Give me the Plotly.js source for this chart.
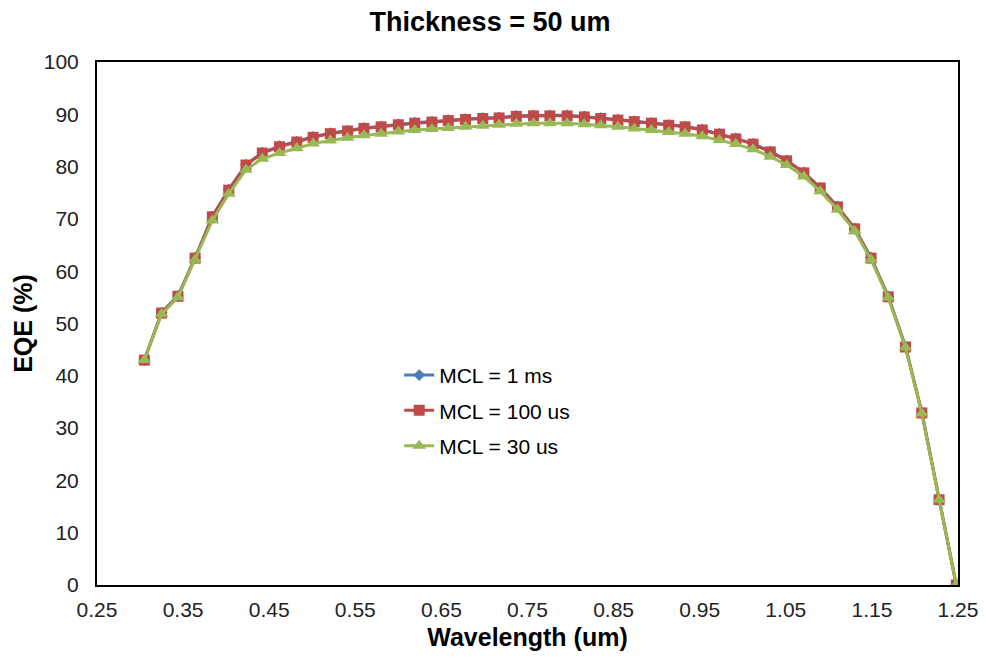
<!DOCTYPE html>
<html>
<head>
<meta charset="utf-8">
<script src="https://cdn.plot.ly/plotly-3.0.1.min.js"></script>
<style>html,body{margin:0;padding:0;background:#fff;}#chart{width:986px;height:664px;}</style>
</head>
<body>
<div id="chart"></div>
<script>
// Wavelength (um)
const wavelength = [0.305, 0.325, 0.344, 0.364, 0.384, 0.403, 0.423, 0.442, 0.462, 0.482,
  0.501, 0.521, 0.541, 0.560, 0.580, 0.600, 0.619, 0.639, 0.658, 0.678,
  0.698, 0.717, 0.737, 0.757, 0.776, 0.796, 0.816, 0.835, 0.855, 0.874,
  0.894, 0.914, 0.933, 0.953, 0.973, 0.992, 1.012, 1.032, 1.051, 1.071,
  1.090, 1.110, 1.130, 1.149, 1.169, 1.189, 1.208, 1.228, 1.248];

// EQE (%) for MCL = 1 ms
const eqe1ms = [43.0, 52.1, 55.3, 62.6, 70.5, 75.6, 80.4, 82.7, 83.9, 84.8,
  85.7, 86.4, 86.9, 87.4, 87.7, 88.1, 88.4, 88.6, 88.9, 89.1,
  89.3, 89.4, 89.7, 89.8, 89.8, 89.8, 89.6, 89.3, 89.0, 88.7,
  88.4, 88.0, 87.7, 87.1, 86.3, 85.4, 84.4, 82.9, 81.2, 78.9,
  76.0, 72.4, 68.2, 62.6, 55.2, 45.6, 33.0, 16.3, 0.0];

// EQE (%) for MCL = 100 us
const eqe100us = [43.0, 52.0, 55.2, 62.5, 70.4, 75.5, 80.3, 82.6, 83.8, 84.7,
  85.6, 86.3, 86.8, 87.3, 87.6, 88.0, 88.3, 88.5, 88.8, 89.0,
  89.2, 89.3, 89.6, 89.7, 89.7, 89.7, 89.5, 89.2, 88.9, 88.6,
  88.3, 87.9, 87.6, 87.0, 86.2, 85.3, 84.3, 82.8, 81.1, 78.8,
  75.9, 72.3, 68.1, 62.5, 55.1, 45.5, 32.9, 16.3, 0.0];

// EQE (%) for MCL = 30 us
const eqe30us = [43.0, 51.8, 55.0, 62.2, 69.7, 74.8, 79.4, 81.5, 82.6, 83.5,
  84.4, 85.0, 85.5, 86.0, 86.3, 86.7, 87.0, 87.2, 87.4, 87.6,
  87.8, 88.0, 88.2, 88.3, 88.3, 88.3, 88.1, 87.9, 87.6, 87.3,
  87.0, 86.6, 86.3, 85.8, 85.1, 84.3, 83.3, 81.9, 80.3, 78.1,
  75.3, 71.8, 67.7, 62.2, 54.9, 45.4, 32.8, 16.3, 0.0];

const seriesNames = ["MCL = 1 ms", "MCL = 100 us", "MCL = 30 us"];
const xTickVals = [0.25, 0.35, 0.45, 0.55, 0.65, 0.75, 0.85, 0.95, 1.05, 1.15, 1.25];
const xTickText = ["0.25", "0.35", "0.45", "0.55", "0.65", "0.75", "0.85", "0.95", "1.05", "1.15", "1.25"];
const yTickVals = [0, 10, 20, 30, 40, 50, 60, 70, 80, 90, 100];

const FONT = "Liberation Sans, Arial, sans-serif";

const traces = [
  {x: wavelength, y: eqe1ms, name: seriesNames[0], mode: "lines+markers", legendgroup: "a",
   line: {color: "#4A7EBB", width: 3}, marker: {symbol: "diamond", size: 9, color: "#4A7EBB"}},
  {x: wavelength, y: eqe100us, name: seriesNames[1], mode: "lines+markers", legendgroup: "b",
   line: {color: "#BE4B48", width: 3}, marker: {symbol: "square", size: 11, color: "#BE4B48"}},
  {x: wavelength, y: eqe30us, name: seriesNames[2], mode: "lines+markers", legendgroup: "c",
   line: {color: "#98B954", width: 3}, marker: {symbol: "triangle-up", size: 12, color: "#98B954"}}
];

const layout = {
  width: 986, height: 664,
  margin: {l: 97, r: 28, t: 62, b: 79},
  paper_bgcolor: "#fff", plot_bgcolor: "#fff",
  font: {family: FONT, color: "#000"},
  title: {text: "<b>Thickness = 50 um</b>", x: 0.497, xref: "container", xanchor: "center",
          y: 0.967, yanchor: "middle",
          font: {family: FONT, size: 27, color: "#000"}},
  xaxis: {range: [0.25, 1.25], tickvals: xTickVals, ticktext: xTickText,
          showgrid: false, zeroline: false, showline: true, mirror: true,
          linecolor: "#000", linewidth: 2, ticks: "", ticklabelstandoff: 5,
          tickfont: {family: FONT, size: 21, color: "#222"},
          title: {text: "<b>Wavelength (um)</b>", standoff: 8, font: {family: FONT, size: 25, color: "#000"}}},
  yaxis: {range: [0, 100], tickvals: yTickVals,
          showgrid: false, zeroline: false, showline: true, mirror: true,
          linecolor: "#000", linewidth: 2, ticks: "", ticklabelstandoff: 12,
          tickfont: {family: FONT, size: 21, color: "#222"},
          title: {text: "<b>EQE (%)</b>", standoff: 4, font: {family: FONT, size: 25, color: "#000"}}},
  showlegend: true,
  legend: {x: 0.351, y: 0.44, xanchor: "left", yanchor: "top", bgcolor: "rgba(0,0,0,0)",
           font: {family: FONT, size: 21, color: "#000"}, traceorder: "grouped", tracegroupgap: 5,
           itemwidth: 30}
};

Plotly.newPlot("chart", traces, layout, {displayModeBar: false, staticPlot: true});
</script>
</body>
</html>
